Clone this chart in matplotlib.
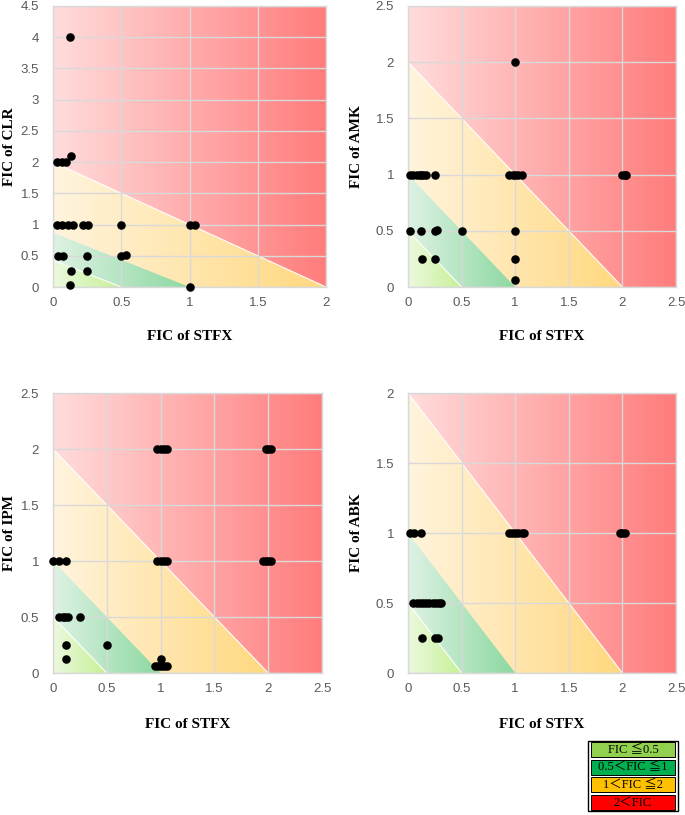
import numpy as np
import matplotlib
matplotlib.use("Agg")
import matplotlib.pyplot as plt
from matplotlib.patches import Polygon, Rectangle
from matplotlib.ticker import FuncFormatter, MultipleLocator

# ---------------- data ----------------
x_label = "FIC of STFX"

clr_x = [0.125, 0.03, 0.066, 0.095, 0.13,
         0.03, 0.066, 0.11, 0.147, 0.22, 0.26, 0.5, 1.0, 1.04,
         0.04, 0.07, 0.25, 0.5, 0.535,
         0.13, 0.25, 0.125, 1.0]
clr_y = [4.0, 2.0, 2.0, 2.0, 2.09,
         1.0, 1.0, 1.0, 1.0, 1.0, 1.0, 1.0, 1.0, 1.0,
         0.5, 0.5, 0.5, 0.5, 0.52,
         0.25, 0.25, 0.03, 0.0]

amk_x = [1.0,
         0.02, 0.05, 0.08, 0.11, 0.125, 0.14, 0.17, 0.25,
         0.94, 0.98, 1.0, 1.03, 1.06, 2.0, 2.02, 2.03,
         0.02, 0.125, 0.25, 0.27, 0.5, 1.0,
         0.13, 0.25, 1.0, 1.0]
amk_y = [2.0,
         1.0, 1.0, 1.0, 1.0, 1.0, 1.0, 1.0, 1.0,
         1.0, 1.0, 1.0, 1.0, 1.0, 1.0, 1.0, 1.0,
         0.5, 0.5, 0.5, 0.51, 0.5, 0.5,
         0.25, 0.25, 0.25, 0.06]

ipm_x = [0.97, 1.0, 1.03, 1.06, 1.98, 2.0, 2.03,
         0.0, 0.06, 0.125, 0.97, 1.0, 1.03, 1.06, 1.95, 1.98, 2.0, 2.03,
         0.06, 0.09, 0.11, 0.14, 0.25,
         0.125, 0.5, 0.125, 1.0,
         0.95, 0.98, 1.0, 1.03, 1.06]
ipm_y = [2.0, 2.0, 2.0, 2.0, 2.0, 2.0, 2.0,
         1.0, 1.0, 1.0, 1.0, 1.0, 1.0, 1.0, 1.0, 1.0, 1.0, 1.0,
         0.5, 0.5, 0.5, 0.5, 0.5,
         0.25, 0.25, 0.125, 0.125,
         0.06, 0.06, 0.06, 0.06, 0.06]

abk_x = [0.02, 0.06, 0.125, 0.94, 0.97, 1.0, 1.03, 1.06, 1.08, 1.98, 2.0, 2.02,
         0.05, 0.08, 0.11, 0.14, 0.17, 0.2, 0.23, 0.26, 0.29, 0.31,
         0.13, 0.25, 0.28]
abk_y = [1.0, 1.0, 1.0, 1.0, 1.0, 1.0, 1.0, 1.0, 1.0, 1.0, 1.0, 1.0,
         0.5, 0.5, 0.5, 0.5, 0.5, 0.5, 0.5, 0.5, 0.5, 0.5,
         0.25, 0.25, 0.25]

panels = [
    dict(x=clr_x, y=clr_y, ylabel="FIC of CLR", xmax=2.0, ymax=4.5,
         bounds=[(2.0, 2.0), (1.0, 0.87), (0.5, 0.43)],
         rect=[53, 6, 326, 287], ylx=-0.135, xly=-0.153),
    dict(x=amk_x, y=amk_y, ylabel="FIC of AMK", xmax=2.5, ymax=2.5,
         bounds=[(2.0, 2.0), (1.0, 1.0), (0.5, 0.5)],
         rect=[408, 6, 676, 287], ylx=-0.168, xly=-0.153),
    dict(x=ipm_x, y=ipm_y, ylabel="FIC of IPM", xmax=2.5, ymax=2.5,
         bounds=[(2.0, 2.0), (1.0, 1.0), (0.5, 0.5)],
         rect=[53, 393, 322, 673], ylx=-0.1375, xly=-0.16),
    dict(x=abk_x, y=abk_y, ylabel="FIC of ABK", xmax=2.5, ymax=2.0,
         bounds=[(2.0, 2.0), (1.0, 1.0), (0.5, 0.5)],
         rect=[408, 393, 676, 673], ylx=-0.168, xly=-0.16),
]

legend_labels = ["FIC \u22660.5", "0.5\uff1cFIC \u22661", "1\uff1cFIC \u22662", "2\uff1cFIC"]
legend_colors = ["#92D050", "#00B050", "#FFC000", "#FF0000"]

# gradient colours (left -> right) for red, yellow, green, light green
grad_red = [(255, 220, 220), (255, 124, 124)]
grad_yel = [(255, 244, 222), (255, 216, 126)]
grad_grn = [(222, 242, 228), (140, 216, 160)]
grad_lgr = [(236, 249, 222), (198, 240, 150)]

W, H = 685, 815
fig = plt.figure(figsize=(W / 100, H / 100), dpi=100)

serif = ["Liberation Serif", "DejaVu Serif"]
tick_font = "Liberation Sans"


def grad_img(c0, c1, n=256):
    c0 = np.array(c0) / 255.0
    c1 = np.array(c1) / 255.0
    t = np.linspace(0, 1, n)[None, :, None]
    return c0 + (c1 - c0) * t


def draw_bg(ax, xmax, ymax, bounds):
    ax.imshow(grad_img(*grad_red), extent=[0, xmax, 0, ymax], aspect="auto",
              zorder=0, interpolation="bilinear")
    grads = [grad_yel, grad_grn, grad_lgr]
    for k, ((xi, yi), g) in enumerate(zip(bounds, grads)):
        im = ax.imshow(grad_img(*g), extent=[0, xi, 0, yi], aspect="auto",
                       zorder=0.2, interpolation="bilinear")
        tri = Polygon([(0, 0), (xi, 0), (0, yi)], closed=True,
                      transform=ax.transData, facecolor="none", edgecolor="none")
        im.set_clip_path(tri)
        if k != 1:
            ax.plot([0, xi], [yi, 0], color="white", lw=0.8, zorder=0.5)


fmt = FuncFormatter(lambda v, p: ("%g" % round(v, 3)))

for p in panels:
    l, t, r, b = p["rect"]
    ax = fig.add_axes([l / W, 1 - b / H, (r - l) / W, (b - t) / H])
    draw_bg(ax, p["xmax"], p["ymax"], p["bounds"])
    ax.set_xlim(0, p["xmax"])
    ax.set_ylim(0, p["ymax"])
    ax.xaxis.set_major_locator(MultipleLocator(0.5))
    ax.yaxis.set_major_locator(MultipleLocator(0.5))
    ax.xaxis.set_major_formatter(fmt)
    ax.yaxis.set_major_formatter(fmt)
    ax.grid(True, color="#D9D9D9", lw=1.0, zorder=1)
    ax.set_axisbelow(False)
    for s in ax.spines.values():
        s.set_visible(False)
    ax.axhline(p["ymax"], color="#D9D9D9", lw=1.0, zorder=1, clip_on=False)
    ax.axvline(p["xmax"], color="#D9D9D9", lw=1.0, zorder=1, clip_on=False)
    ax.axhline(0, color="#D9D9D9", lw=1.0, zorder=1, clip_on=False)
    ax.axvline(0, color="#D9D9D9", lw=1.0, zorder=1, clip_on=False)
    ax.tick_params(length=0, labelsize=9.5, labelcolor="#595959")
    ax.tick_params(axis="y", pad=10)
    ax.tick_params(axis="x", pad=7)
    for lab in ax.get_xticklabels() + ax.get_yticklabels():
        lab.set_fontfamily(tick_font)
    ax.scatter(p["x"], p["y"], s=38, color="black", zorder=5, clip_on=False,
               linewidths=0)
    ax.set_xlabel(x_label, fontfamily=serif, fontweight="bold", fontsize=11)
    ax.set_ylabel(p["ylabel"], fontfamily=serif, fontweight="bold", fontsize=11)
    ax.yaxis.set_label_coords(p["ylx"], 0.5)
    ax.xaxis.set_label_coords(0.5, p["xly"])

# legend box
lx0, ly0, lx1, ly1 = 588, 741, 678, 811
lax = fig.add_axes([lx0 / W, 1 - ly1 / H, (lx1 - lx0) / W, (ly1 - ly0) / H])
lax.set_xlim(0, 1)
lax.set_ylim(0, 4)
lax.axis("off")
lax.add_patch(Rectangle((0, 0), 1, 4, facecolor="white", edgecolor="black",
                        lw=1.0, clip_on=False))
for i, (lab, col) in enumerate(zip(legend_labels, legend_colors)):
    y0 = 3 - i
    lax.add_patch(Rectangle((0.03, y0 + 0.06), 0.94, 0.88, facecolor=col,
                            edgecolor="black", lw=0.7, clip_on=False))
    lax.text(0.5, y0 + 0.48, lab, ha="center", va="center", fontsize=9,
             family=["Liberation Serif", "Noto Sans CJK JP", "DejaVu Sans"])

fig.savefig("out.png", dpi=100)
